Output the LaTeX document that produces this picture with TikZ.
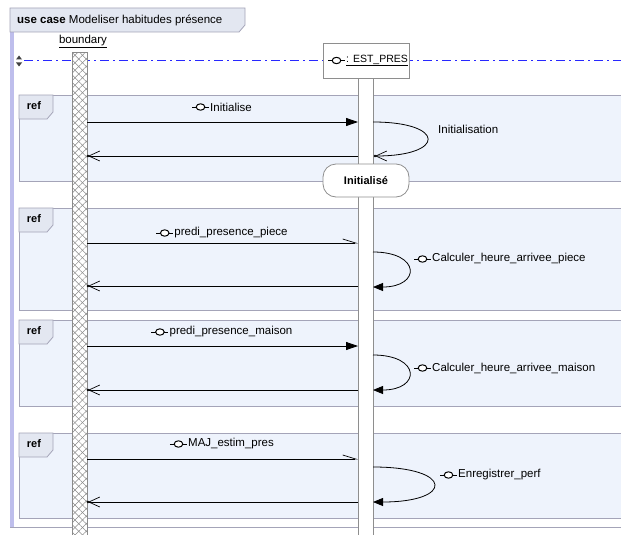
\documentclass[tikz,border=0pt]{standalone}
\usepackage{fontspec}
\setmainfont{Liberation Sans}
\usetikzlibrary{arrows.meta,patterns.meta}
\definecolor{fragbg}{HTML}{EEF3FC}
\definecolor{fragline}{HTML}{A4A4B8}
\definecolor{tabbg}{HTML}{E3E7F1}
\definecolor{lifegray}{HTML}{8E8E8E}
\definecolor{hatchgray}{HTML}{8A8A8A}
\definecolor{dashblue}{RGB}{40,40,255}
\definecolor{lav}{HTML}{BEBEEC}
\tikzset{
  lbl/.style={inner sep=0pt, font=\fontsize{11.5}{13}\selectfont},
  reflbl/.style={inner sep=0pt, font=\fontsize{11}{13}\selectfont\bfseries},
  frag/.style={draw=fragline, fill=fragbg, line width=0.8pt},
  tabshape/.style={draw=fragline, fill=tabbg, line width=0.8pt},
  msg/.style={draw=black, line width=0.8pt},
  synchead/.style={-{Triangle[length=12pt,width=8pt]}},
  rethead/.style={-{Straight Barb[length=11pt,width=10pt,line width=0.7pt]}},
  halfhead/.style={-{Straight Barb[left,length=13pt,width=8pt,line width=0.7pt]}},
  loophead/.style={-{Triangle[length=10pt,width=8pt]}},
  lifebar/.style={draw=lifegray, fill=white, line width=0.8pt},
  iface/.pic={\draw[line width=0.8pt] (0,0) -- (17,0);
              \draw[line width=1pt, fill=white] (8.5,0) ellipse [x radius=4.3, y radius=3.2];},
}
\begin{document}
\begin{tikzpicture}[x=1pt,y=-1pt]
\useasboundingbox (0,0) rectangle (621,535);
\clip (0,0) rectangle (621,535);
\fill[white] (0,0) rectangle (621,535);

% frame
\fill[lav] (10,32) rectangle (13.5,527);
\draw[fragline, line width=0.8pt] (10,527) -- (625,527);
\draw[tabshape] (10,8) -- (245,8) -- (245,25) -- (239,32) -- (10,32) -- cycle;
\node[lbl, anchor=west] (title) at (17,20) {\textbf{use case} Modeliser habitudes présence};

% dashed timeline
\draw[draw=dashblue, line width=1pt, dash pattern=on 9pt off 4pt on 2pt off 4pt] (24,61) -- (625,61);
\fill[black!75] (16,59.5) -- (19,55.5) -- (22,59.5) -- cycle;
\fill[black!75] (16,62.5) -- (19,66.5) -- (22,62.5) -- cycle;

% fragments
\foreach \t/\b in {95/181, 208/310, 320/406, 433/518}{
  \draw[frag] (19,\t) rectangle (640,\b);
  \draw[tabshape] (19,\t) -- (53,\t) -- (53,\t+17) -- (47,\t+24) -- (19,\t+24) -- cycle;
  \node[reflbl] at (34,\t+11) {ref};
}

% lifelines
\node[anchor=south, lbl] (bndlbl) at (83,48) {\underline{boundary}};
\node[draw=hatchgray, line width=0.8pt, minimum width=15pt, minimum height=490pt, inner sep=0pt,
      anchor=north,
      preaction={fill=white},
      postaction={pattern={Lines[angle=45,distance=5.3pt,line width=0.5pt]}, pattern color=hatchgray},
      postaction={pattern={Lines[angle=-45,distance=5.3pt,line width=0.5pt]}, pattern color=hatchgray}]
      (bnd) at (79.5,52) {};
\node[lifebar, minimum width=15pt, minimum height=470pt, inner sep=0pt, anchor=north] (estl) at (365.5,78) {};

% message end points
\coordinate (a1) at (87,122);  \coordinate (b1) at (358,122);
\coordinate (r1) at (358,156); \coordinate (q1) at (88,156);
\coordinate (s1) at (373,122); \coordinate (e1) at (375,156);
\coordinate (a2) at (87,243);  \coordinate (b2) at (358,243);
\coordinate (r2) at (358,286); \coordinate (q2) at (88,286);
\coordinate (s2) at (373,252); \coordinate (e2) at (373,287);
\coordinate (a3) at (87,346);  \coordinate (b3) at (358,346);
\coordinate (r3) at (358,390); \coordinate (q3) at (88,390);
\coordinate (s3) at (373,355); \coordinate (e3) at (373,390);
\coordinate (a4) at (87,459);  \coordinate (b4) at (358,459);
\coordinate (r4) at (358,502); \coordinate (q4) at (88,502);
\coordinate (s4) at (373,467); \coordinate (e4) at (373,502);

% fragment 1
\draw[msg, synchead] (a1) -- (b1);
\draw[msg, rethead] (r1) -- (q1); \fill (q1) circle (1.3);
\draw[msg, rethead] (s1) .. controls (446,122) and (446,156) .. (e1); \fill (e1) circle (1.3);
% fragment 2
\draw[msg, halfhead] (a2) -- (b2);
\draw[msg, rethead] (r2) -- (q2); \fill (q2) circle (1.3);
\draw[msg, loophead] (s2) .. controls (421,252) and (421,287) .. (e2);
% fragment 3
\draw[msg, synchead] (a3) -- (b3);
\draw[msg, rethead] (r3) -- (q3); \fill (q3) circle (1.3);
\draw[msg, loophead] (s3) .. controls (421,355) and (421,390) .. (e3);
% fragment 4
\draw[msg, halfhead] (a4) -- (b4);
\draw[msg, rethead] (r4) -- (q4); \fill (q4) circle (1.3);
\draw[msg, loophead] (s4) .. controls (454,467) and (454,502) .. (e4);

% message labels
\node[lbl] (t1) at (231,107) {Initialise};
\pic at ([xshift=-18pt]t1.west) {iface};
\node[lbl] (t2) at (231,233) {predi\_presence\_piece};
\pic at ([xshift=-18pt]t2.west) {iface};
\node[lbl] (t3) at (231,332) {predi\_presence\_maison};
\pic at ([xshift=-18pt]t3.west) {iface};
\node[lbl] (t4) at (231,444) {MAJ\_estim\_pres};
\pic at ([xshift=-18pt]t4.west) {iface};

\node[lbl, anchor=west] (u1) at (438,129) {Initialisation};
\node[lbl, anchor=west] (u2) at (432,259) {Calculer\_heure\_arrivee\_piece};
\pic at ([xshift=-18pt]u2.west) {iface};
\node[lbl, anchor=west] (u3) at (432,368) {Calculer\_heure\_arrivee\_maison};
\pic at ([xshift=-18pt]u3.west) {iface};
\node[lbl, anchor=west] (u4) at (458,475) {Enregistrer\_perf};
\pic at ([xshift=-18pt]u4.west) {iface};

% state
\node[draw=lifegray, fill=white, line width=0.8pt, rounded corners=13pt, minimum width=86pt,
      minimum height=33pt, inner sep=0pt, font=\fontsize{11}{13}\selectfont\bfseries] (st) at (366,180.5) {Initialisé};

% EST_PRES head
\node[draw=lifegray, fill=white, line width=0.8pt, minimum width=86pt, minimum height=35pt, inner sep=0pt] (est) at (366,60.5) {};
\node[inner sep=0pt, font=\fontsize{10.5}{12}\selectfont, anchor=west] (estt) at (346,60.5) {\underline{: EST\_PRES}};
\pic at ([xshift=-18pt]estt.west) {iface};
\end{tikzpicture}
\end{document}
